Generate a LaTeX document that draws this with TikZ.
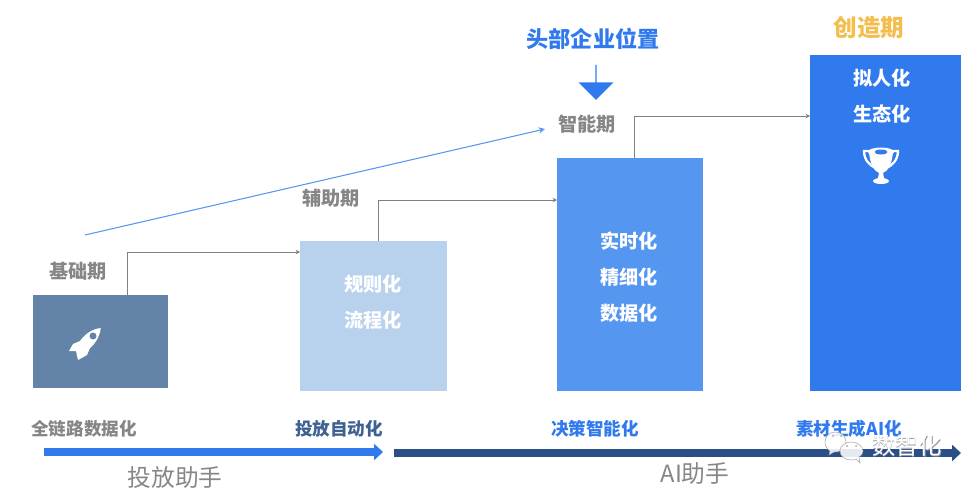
\documentclass[tikz,border=0pt]{standalone}
\usepackage{fontspec}
\setmainfont{Noto Sans CJK SC}
\usetikzlibrary{shapes.arrows,arrows.meta}
\definecolor{basecol}{HTML}{6384A8}
\definecolor{assistcol}{HTML}{B8D1ED}
\definecolor{smartcol}{HTML}{5596F0}
\definecolor{createcol}{HTML}{317AEE}
\definecolor{deepcol}{HTML}{2A4F86}
\definecolor{goldcol}{HTML}{F3BE4E}
\tikzset{
    bar/.style={anchor=north west,inner sep=0pt},
    stage/.style={font=\fontsize{10.9pt}{12pt}\selectfont\bfseries,text=gray!95},
    inbar/.style={font=\fontsize{10.9pt}{12pt}\selectfont\bfseries,text=white},
    goal/.style={font=\fontsize{10pt}{12pt}\selectfont\bfseries},
    track/.style={font=\fontsize{13.5pt}{15pt}\selectfont,text=gray!95},
    link/.style={draw=gray,line width=0.5pt,-{Stealth[length=2.5pt,width=2.5pt]}},
    band/.style={line width=4pt,-{Triangle[length=5pt,width=9pt]}},
    bubble/.style={draw=gray!70,fill=white,fill opacity=0.88,line width=0.3pt}
}
\begin{document}
\begin{tikzpicture}[x=0.02cm,y=-0.02cm]
    \useasboundingbox (0,0) rectangle (974,490);
    \node[bar,fill=basecol,minimum width=2.7cm,minimum height=1.86cm] (basebar) at (33,295) {};
    \node[bar,fill=assistcol,minimum width=2.94cm,minimum height=3cm] (assistbar) at (300,241) {};
    \node[bar,fill=smartcol,minimum width=2.92cm,minimum height=4.66cm] (smartbar) at (557,158) {};
    \node[bar,fill=createcol,minimum width=3.02cm,minimum height=6.72cm] (createbar) at (810,55) {};
    \node[stage] (basename) at (78,271) {基础期};
    \node[stage] (assistname) at (331,198) {辅助期};
    \node[stage] (smartname) at (587,124) {智能期};
    \node[font=\fontsize{13.4pt}{15pt}\selectfont\bfseries,text=goldcol] (createname) at (869,28) {创造期};
    \node[font=\fontsize{12.6pt}{15pt}\selectfont\bfseries,text=createcol] (topfirms) at (593,39) {头部企业位置};
    \node[single arrow,fill=createcol,shape border rotate=270,inner sep=0pt,minimum width=0.7cm,
        minimum height=0.7cm,single arrow head extend=0.16cm] (toparrow) at (596,82) {};
    \node[inbar] (rule) at (373,284) {规则化};
    \node[inbar] (flow) at (373,320) {流程化};
    \node[inbar] (realtime) at (629,241) {实时化};
    \node[inbar] (fine) at (629,277) {精细化};
    \node[inbar] (data) at (629,313) {数据化};
    \node[inbar] (human) at (882,78) {拟人化};
    \node[inbar] (eco) at (882,114) {生态化};
    \coordinate (baseout) at (127,295);
    \coordinate (assistin) at (300,252);
    \coordinate (assistout) at (378,241);
    \coordinate (smartin) at (557,200);
    \coordinate (smartout) at (634,158);
    \coordinate (createin) at (810,116);
    \coordinate (risefrom) at (85,235);
    \coordinate (riseto) at (545,129);
    \draw[link] (baseout) |- (assistin);
    \draw[link] (assistout) |- (smartin);
    \draw[link] (smartout) |- (createin);
    \draw[-{Stealth[length=3.5pt,width=3.5pt]},draw=smartcol,line width=0.6pt] (risefrom) -- (riseto);
    % rocket
    \fill[white] (100.7,328) .. controls (92,329) and (85,334) .. (80,341)
        -- (73,344) -- (69,351) -- (76,351) -- (78,360) -- (87,355) -- (90,348)
        .. controls (96,343) and (100,336) .. (100.7,328) -- cycle;
    \fill[basecol] (93,336) circle (3.5);
    % trophy
    \draw[white,line width=1.3pt] (870,151) -- (864,151) .. controls (864,160) and (870,166) .. (876,168);
    \draw[white,line width=1.3pt] (892,151) -- (898,151) .. controls (898,160) and (892,166) .. (886,168);
    \fill[white] (869,152) .. controls (870,164) and (874,171) .. (879,173) -- (878,178)
        .. controls (875,179) and (873,180) .. (873,181) .. controls (873,185) and (889,185) .. (889,181)
        .. controls (889,180) and (887,179) .. (884,178) -- (883,173)
        .. controls (888,171) and (892,164) .. (893,152) -- cycle;
    \fill[white] (881,152) ellipse (13 and 4.5);
    \fill[createcol] (881,152) ellipse (6.5 and 2.5);
    \node[goal,text=gray!95] (fullchain) at (84,429) {全链路数据化};
    \node[goal,text=deepcol!90!white] (autoput) at (339,429) {投放自动化};
    \node[goal,text=createcol] (decide) at (595,429) {决策智能化};
    \node[goal,text=createcol] (material) at (849,429) {素材生成AI化};
    \coordinate (bandastart) at (44,452);
    \coordinate (bandaend) at (383,452);
    \coordinate (bandbstart) at (394,453);
    \coordinate (bandbend) at (961,453);
    \draw[band,draw=createcol] (bandastart) -- (bandaend);
    \draw[band,draw=deepcol] (bandbstart) -- (bandbend);
    \node[track] (puthelper) at (175,477) {投放助手};
    \node[track] (aihelper) at (695,474) {AI助手};
    % watermark
    \draw[bubble] (835,432) .. controls (829,432) and (825,437) .. (825,442)
        .. controls (825,446) and (827,449) .. (830,451) -- (829,455) -- (834,452)
        .. controls (840,453) and (845,448) .. (846,442) .. controls (846,436) and (841,432) .. (835,432) -- cycle;
    \draw[bubble] (851,442) .. controls (845,442) and (840,446) .. (840,451)
        .. controls (840,456) and (845,460) .. (851,460) .. controls (853,460) and (855,460) .. (856,459)
        -- (860,463) -- (859,457) .. controls (862,455) and (863,453) .. (863,451)
        .. controls (863,446) and (857,442) .. (851,442) -- cycle;
    \fill[gray!70] (847,446) circle (1) (856,446) circle (1) (833,436) circle (1) (841,436) circle (1);
    \node[font=\fontsize{13.2pt}{15pt}\selectfont,text=gray!80] (markshade) at (907.5,446.5) {数智化};
    \node[font=\fontsize{13.2pt}{15pt}\selectfont,text=white] (mark) at (907,446) {数智化};
\end{tikzpicture}
\end{document}
